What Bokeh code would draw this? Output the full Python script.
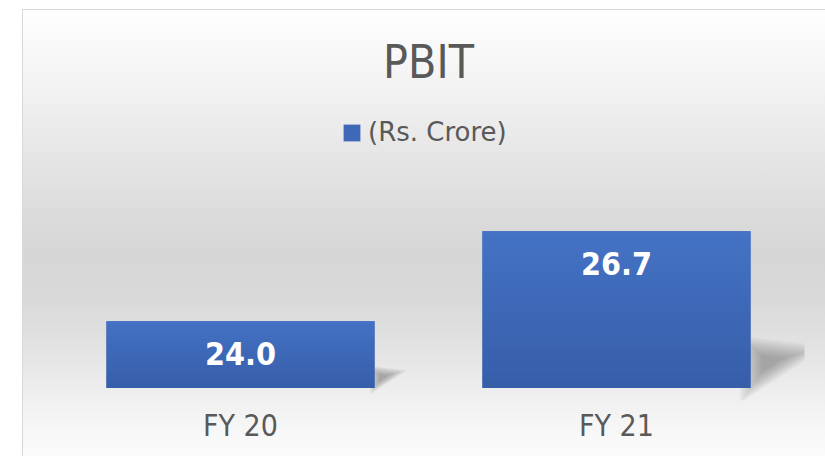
import numpy as np
from bokeh.plotting import figure
from bokeh.models import Range1d, FixedTicker, Legend, LegendItem, LabelSet, ColumnDataSource
from bokeh.core.properties import value
from bokeh.embed import file_html
from bokeh.resources import INLINE

# ---- data ----
categories = ["FY 20", "FY 21"]
pbit = [24.0, 26.7]
value_labels = ["24.0", "26.7"]
series_name = "(Rs. Crore)"
title_text = "PBIT"

# ---- style ----
FONT = "DejaVu Sans Condensed, DejaVu Sans"
LEG_FONT = "DejaVu Sans"
TXT = "#595959"
BASE = 22.0
W = 0.713
TOP_COL = np.array([0x45, 0x73, 0xC5])
BOT_COL = np.array([0x37, 0x5E, 0xA9])

xs = np.arange(len(categories))
vals = np.array(pbit)

p = figure(width=825, height=456, output_backend="svg", toolbar_location=None,
           x_range=Range1d(-0.5, 1.5), y_range=Range1d(21.625, 30.625),
           min_border_left=52, min_border_right=21, min_border_top=100,
           min_border_bottom=56)

p.background_fill_alpha = 0
p.border_fill_alpha = 0
p.outline_line_color = None
p.grid.visible = False
p.yaxis.visible = False

css_bg = (
    "linear-gradient(#d9d9d9,#d9d9d9) 22px 9px / 1px 100% no-repeat, "
    "linear-gradient(#d9d9d9,#d9d9d9) 22px 9px / 100% 1px no-repeat, "
    "linear-gradient(to bottom, #fefefe 0px, #f7f7f7 50px, #eeeeee 100px, "
    "#e5e5e5 150px, #dcdcdc 200px, #d6d6d6 245px, #d9d9d9 290px, #e3e3e3 340px, "
    "#efefef 385px, #f7f7f7 420px, #fbfbfb 446px) 23px 10px / 100% 100% no-repeat, "
    "#ffffff"
)
p.styles = {"background": css_bg}

# title
p.title.text = title_text
p.title.align = "center"
p.title.text_font_size = "46px"
p.title.text_font_style = "normal"
p.title.text_color = TXT
p.title.text_font = FONT
p.title.standoff = 23

# x axis
p.xaxis.ticker = FixedTicker(ticks=[float(x) for x in xs])
p.xaxis.major_label_overrides = {int(x): c for x, c in zip(xs, categories)}
p.xaxis.axis_line_color = None
p.xaxis.major_tick_line_color = None
p.xaxis.minor_tick_line_color = None
p.xaxis.major_label_text_font_size = "30px"
p.xaxis.major_label_text_font = FONT
p.xaxis.major_label_text_color = TXT
p.xaxis.major_label_standoff = 1

# shadows (soft perspective shadow to the right of each bar)
sh_xs, sh_ys, sh_alpha = [], [], []
for x, v in zip(xs, vals):
    h = v - BASE
    ax = x + W / 2
    sy = 0.27 * h
    ex = 0.031 * h
    px = np.array([ax, ax, ax + ex])
    py = np.array([BASE, BASE + sy, BASE + 0.85 * sy])
    cx, cy = px.mean(), py.mean()
    for f in np.linspace(1.6, 0.4, 12):
        sh_xs.append(list(cx + (px - cx) * f))
        sh_ys.append(list(cy + (py - cy) * f))
        sh_alpha.append(0.035)
p.patches(xs=sh_xs, ys=sh_ys, fill_color="#404040", fill_alpha=sh_alpha, line_color=None)

# base bars (legend)
src = ColumnDataSource(dict(x=xs, top=vals, label=value_labels))
bars = p.vbar(x="x", top="top", bottom=BASE, width=W, source=src,
              fill_color="#3F69B8", line_color=None)

# vertical gradient overlay on the bars
N = 40
ql, qr, qb, qt, qc = [], [], [], [], []
for x, v in zip(xs, vals):
    h = v - BASE
    for k in range(N):
        b = BASE + h * k / N
        t = BASE + h * (k + 1) / N + h * 0.002
        frac = (k + 0.5) / N  # 0 bottom -> 1 top
        c = (BOT_COL + (TOP_COL - BOT_COL) * frac).astype(int)
        ql.append(x - W / 2); qr.append(x + W / 2)
        qb.append(b); qt.append(min(t, v))
        qc.append("#%02x%02x%02x" % tuple(c))
p.quad(left=ql, right=qr, bottom=qb, top=qt, fill_color=qc, line_color=None)

# value labels
labels = LabelSet(x="x", y="top", text="label", source=src, y_offset=-32,
                  text_align="center", text_baseline="middle",
                  text_color="white", text_font_style="bold",
                  text_font_size="32px", text_font=value(FONT))
p.add_layout(labels)

legend = Legend(items=[LegendItem(label=series_name, renderers=[bars])],
                location=(289, 253), padding=0, margin=0,
                background_fill_alpha=0, border_line_color=None,
                glyph_width=21, glyph_height=21, label_standoff=6,
                label_text_font_size="26px", label_text_color=TXT,
                label_text_font=LEG_FONT)
p.add_layout(legend)

open("out.html", "w").write(file_html(p, INLINE))
